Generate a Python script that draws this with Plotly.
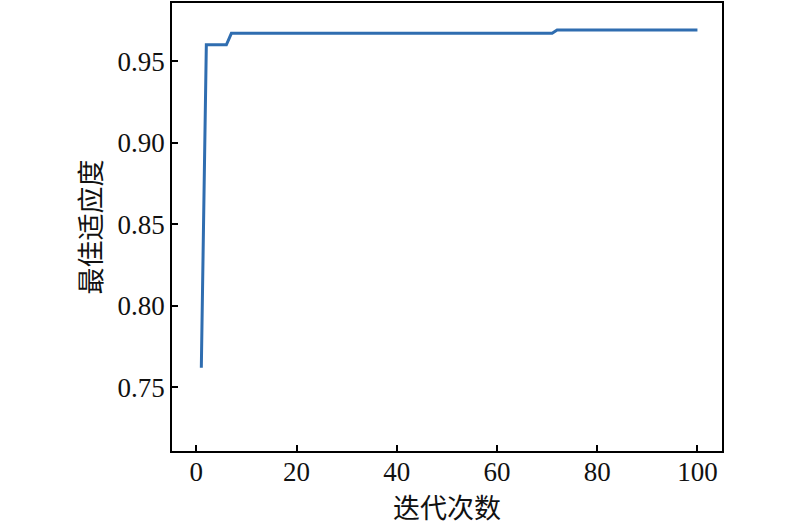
import plotly.graph_objects as go

# Best fitness per iteration
iterations = list(range(1, 101))
fitness = [0.762] + [0.960] * 5 + [0.967] * 65 + [0.969] * 29

x_ticks = [0, 20, 40, 60, 80, 100]
y_ticks = [0.75, 0.80, 0.85, 0.90, 0.95]
y_tick_labels = ["0.75", "0.80", "0.85", "0.90", "0.95"]

fig = go.Figure()
fig.add_trace(
    go.Scatter(
        x=iterations,
        y=fitness,
        mode="lines",
        line=dict(color="#2f6db0", width=3),
        showlegend=False,
    )
)

font_main = "Liberation Serif, Times New Roman, Noto Sans CJK SC, serif"

fig.update_layout(
    width=800,
    height=527,
    margin=dict(l=172, r=78, t=1, b=76),
    plot_bgcolor="white",
    paper_bgcolor="white",
    font=dict(family=font_main, size=27, color="#111111"),
)

fig.update_xaxes(
    range=[-4.85, 104.9],
    tickvals=x_ticks,
    ticks="inside",
    ticklen=6,
    tickwidth=1.5,
    tickcolor="black",
    ticklabelstandoff=-4,
    showline=True,
    linecolor="black",
    linewidth=1.8,
    mirror=True,
    showgrid=False,
    zeroline=False,
    title=dict(text="迭代次数", font=dict(size=27, family="Noto Sans CJK SC"), standoff=4),
)
fig.update_yaxes(
    range=[0.7109, 0.9856],
    tickvals=y_ticks,
    ticktext=y_tick_labels,
    ticks="inside",
    ticklen=6,
    tickwidth=1.5,
    tickcolor="black",
    showline=True,
    linecolor="black",
    linewidth=1.8,
    mirror=True,
    showgrid=False,
    zeroline=False,
    title=dict(text="最佳适应度", font=dict(size=27, family="Noto Sans CJK SC"), standoff=8),
)

# drop the default page margin so the figure sits at the window corner
fig.write_html(
    "out.html",
    config={"displayModeBar": False},
    post_script="document.body.style.margin='0';",
)
